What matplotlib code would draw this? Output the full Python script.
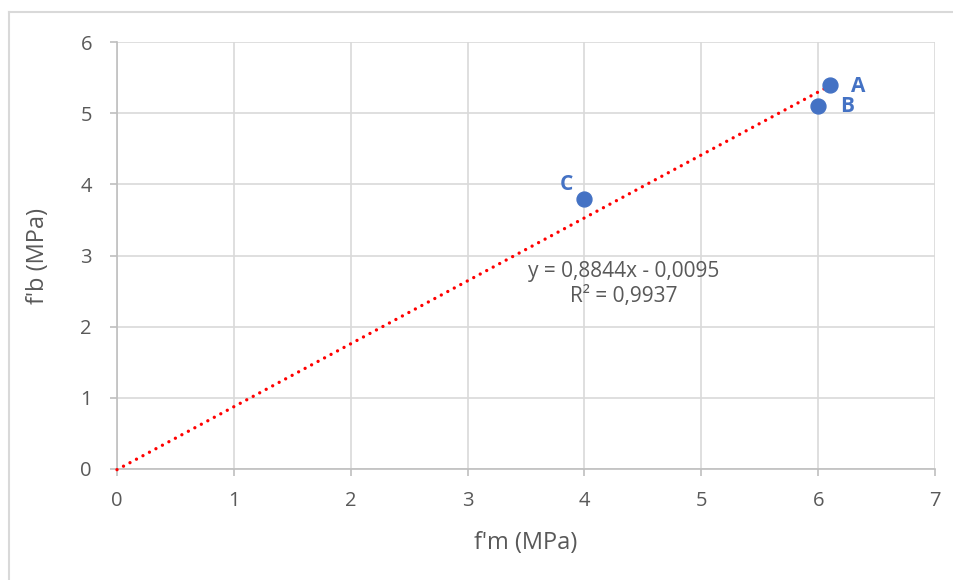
import numpy as np
import matplotlib
matplotlib.use("Agg")
import matplotlib.pyplot as plt
from matplotlib.lines import Line2D

# data
fm = [6.1, 6.0, 4.0]
fb = [5.4, 5.1, 3.8]
point_labels = ["A", "B", "C"]
slope = 0.8844
intercept = -0.0095
trend_x = [0.0, 6.1]
eq_text = "y = 0,8844x - 0,0095\nR² = 0,9937"

blue = "#4472C4"
text_gray = "#595959"

plt.rcParams.update({
    "font.family": ["Open Sans", "DejaVu Sans"],
    "font.size": 10,
})

fig = plt.figure(figsize=(9.54, 5.8), dpi=100)
ax = fig.add_axes([117 / 954, 111 / 580, 818 / 954, 427 / 580])

# chart border (excel-like, only top and left visible)
fig.add_artist(Line2D([9 / 954, 1.0], [1 - 12 / 580] * 2,
                      color="#d9d9d9", lw=1.5, transform=fig.transFigure))
fig.add_artist(Line2D([9 / 954] * 2, [0.0, 1 - 12 / 580],
                      color="#d9d9d9", lw=1.5, transform=fig.transFigure))

ax.set_xlim(0, 7)
ax.set_ylim(0, 6)
ax.set_xticks(np.arange(0, 8, 1))
ax.set_yticks(np.arange(0, 7, 1))
ax.grid(True, color="#d9d9d9", lw=1.2)
ax.set_axisbelow(True)
for s in ["top", "right"]:
    ax.spines[s].set_visible(False)
for s in ["left", "bottom"]:
    ax.spines[s].set_color("#bfbfbf")
    ax.spines[s].set_linewidth(1.2)
ax.tick_params(length=5, width=1.2, color="#bfbfbf", labelcolor=text_gray,
               labelsize=14.5)
ax.tick_params(axis="x", pad=11)
ax.tick_params(axis="y", pad=13)

tx = np.array(trend_x)
ax.plot(tx, slope * tx + intercept, color="red", lw=2.4,
        dashes=(0.01, 2.2), dash_capstyle="round", zorder=3, clip_on=False)

ax.scatter(fm, fb, s=115, color=blue, zorder=4, clip_on=False)

offsets = {"A": (0.24, -0.03), "B": (0.25, 0.0), "C": (-0.15, 0.2)}
for x, y, lab in zip(fm, fb, point_labels):
    dx, dy = offsets[lab]
    ax.text(x + dx, y + dy, lab, color=blue, fontsize=15,
            fontweight="bold", ha="center", va="center")

ax.text(4.34, 2.6, eq_text, ha="center", va="center", color=text_gray,
        fontsize=15, linespacing=1.2)

ax.set_xlabel("f'm (MPa)", color=text_gray, fontsize=17, labelpad=14)
ax.set_ylabel("f'b (MPa)", color=text_gray, fontsize=17, labelpad=22)

fig.savefig("out.png", dpi=100)
